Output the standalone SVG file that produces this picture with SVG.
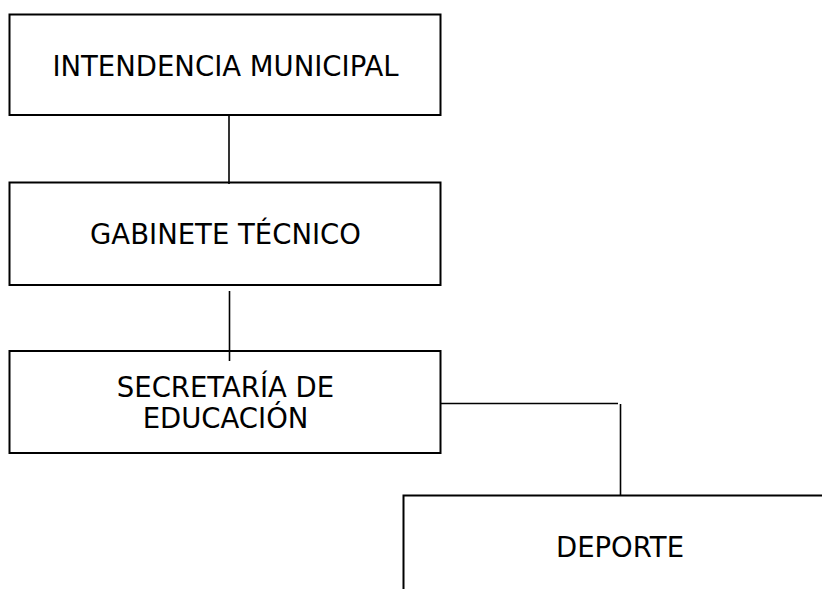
<svg xmlns="http://www.w3.org/2000/svg" width="822" height="589" viewBox="0 0 822 589">
<style>
.box{fill:#fff;stroke:#000;stroke-width:2}
.lbl{font-family:"DejaVu Sans",Verdana,sans-serif;font-size:27.5px;fill:#000;text-anchor:middle}
.con{fill:none;stroke:#000;stroke-width:1.6}
</style>
<rect width="822" height="589" fill="#fff"/>
<g id="n1"><rect class="box" x="9.5" y="14.5" width="431" height="100.5"/><text class="lbl" x="225.5" y="76">INTENDENCIA MUNICIPAL</text></g>
<g id="n2"><rect class="box" x="9.5" y="182.5" width="431" height="102.5"/><text class="lbl" x="225.5" y="244">GABINETE TÉCNICO</text></g>
<g id="n3"><rect class="box" x="9.5" y="351" width="431" height="102"/><text class="lbl" x="225.5" y="397">SECRETARÍA DE</text><text class="lbl" x="225.5" y="428">EDUCACIÓN</text></g>
<g id="n4"><rect class="box" x="403.5" y="495.5" width="430" height="110"/><text class="lbl" x="620" y="557">DEPORTE</text></g>
<g id="connectors">
<line class="con" x1="229" y1="115" x2="229" y2="184"/>
<line class="con" x1="229.5" y1="291" x2="229.5" y2="361"/>
<polyline class="con" points="441,403.5 618,403.5"/>
<line class="con" x1="620.5" y1="404" x2="620.5" y2="495"/>
</g>
</svg>
